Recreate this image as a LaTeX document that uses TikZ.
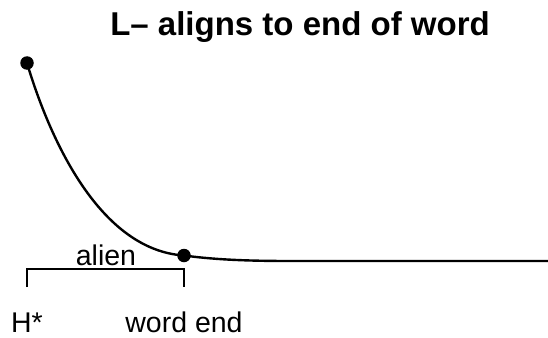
\documentclass[tikz,border=0pt]{standalone}
\usepackage{fontspec}
\setmainfont{Liberation Sans}
\begin{document}
\begin{tikzpicture}[x=1pt,y=-1pt,
  dotstyle/.style={circle,fill=black,inner sep=0pt,minimum size=13.5pt},
  lbl/.style={font=\fontsize{28.5}{30}\selectfont,inner sep=0pt,anchor=base},
  curvestyle/.style={line width=2.4pt},
  brack/.style={line width=2.4pt}]
\useasboundingbox (0,0) rectangle (548,337);
\node[font=\bfseries\fontsize{33}{36}\selectfont,inner sep=0pt,anchor=base] (title) at (300,36) {L– aligns to end of word};
\node[dotstyle] (h) at (27,63) {};
\node[dotstyle] (w) at (184,255.5) {};
\coordinate (e) at (548,261);
\draw[curvestyle] (h.center) .. controls (50,140) and (100,250) .. (w.center)
  .. controls (210,259) and (240,261) .. (290,261) -- (e);
\coordinate (bl) at (27,287);
\coordinate (br) at (184,287);
\draw[brack] (bl) -- (27,269) -- (184,269) -- (br);
\node[lbl] (alien) at (106,265) {alien};
\node[lbl] (hstar) at (27,332) {H*};
\node[lbl] (wend) at (184,332) {word end};
\end{tikzpicture}
\end{document}
